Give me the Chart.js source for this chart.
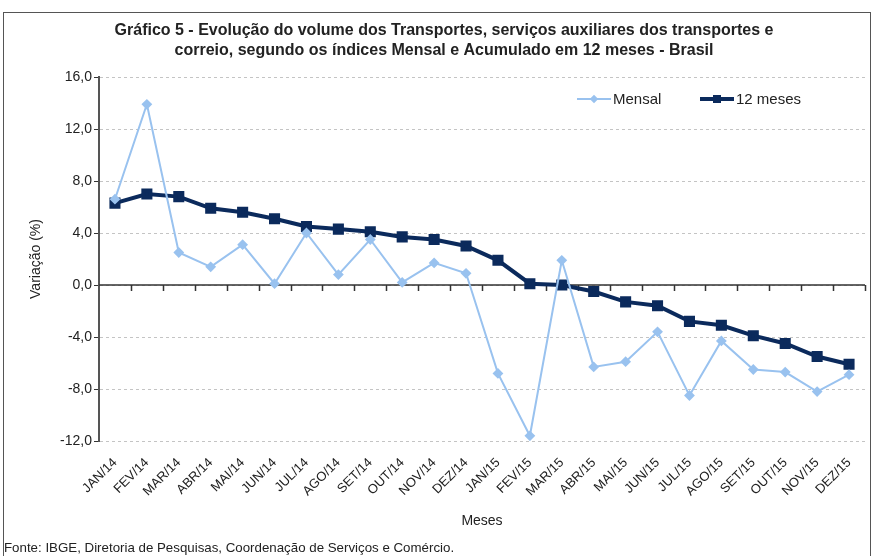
<!DOCTYPE html>
<html>
<head>
<meta charset="utf-8">
<script src="https://cdn.jsdelivr.net/npm/chart.js@4.4.1/dist/chart.umd.min.js"></script>
<style>
  html, body { margin: 0; padding: 0; background: #fff; }
  #wrap { position: relative; width: 874px; height: 556px; font-family: "Liberation Sans", Arial, sans-serif; }
  #frame { position: absolute; left: 3px; top: 12px; width: 868px; height: 560px; border: 1px solid #555; box-sizing: border-box; }
  canvas { position: absolute; left: 0; top: 0; }
  #legend { position: absolute; top: 90px; left: 577px; font-size: 15px; color: #222; display: flex; align-items: center; }
  .item { display: flex; align-items: center; }
  .sw { position: relative; width: 34px; height: 14px; margin-right: 2px; }
  .sw .ln { position: absolute; left: 0; right: 0; top: 50%; }
  .sw .mk { position: absolute; left: 50%; top: 50%; }
  #footer { position: absolute; left: 4px; top: 540px; font-size: 13.3px; color: #222; }
</style>
</head>
<body>
<div id="wrap">
  <div id="frame"></div>
  <canvas id="chart" width="874" height="556"></canvas>
  <div id="legend">
    <div class="item" style="width:123px"><div class="sw"><div class="ln" style="height:2px;margin-top:-1px;background:#99c2ef"></div><div class="mk" style="width:6px;height:6px;margin:-3px 0 0 -3px;background:#99c2ef;transform:rotate(45deg)"></div></div>Mensal</div>
    <div class="item"><div class="sw"><div class="ln" style="height:4px;margin-top:-2px;background:#0b2a5c"></div><div class="mk" style="width:8px;height:8px;margin:-4px 0 0 -4px;background:#0b2a5c"></div></div>12 meses</div>
  </div>
  <div id="footer">Fonte: IBGE, Diretoria de Pesquisas, Coordenação de Serviços e Comércio.</div>
</div>
<script>
// Data
const months = ["JAN/14", "FEV/14", "MAR/14", "ABR/14", "MAI/14", "JUN/14", "JUL/14", "AGO/14", "SET/14", "OUT/14", "NOV/14", "DEZ/14",
  "JAN/15", "FEV/15", "MAR/15", "ABR/15", "MAI/15", "JUN/15", "JUL/15", "AGO/15", "SET/15", "OUT/15", "NOV/15", "DEZ/15"];
const mensal = [6.6, 13.9, 2.5, 1.4, 3.1, 0.1, 4.0, 0.8, 3.5, 0.2, 1.7, 0.9,
  -6.8, -11.6, 1.9, -6.3, -5.9, -3.6, -8.5, -4.3, -6.5, -6.7, -8.2, -6.9];
const acum12 = [6.3, 7.0, 6.8, 5.9, 5.6, 5.1, 4.5, 4.3, 4.1, 3.7, 3.5, 3.0,
  1.9, 0.1, 0.0, -0.5, -1.3, -1.6, -2.8, -3.1, -3.9, -4.5, -5.5, -6.1];
const yTicks = [-12, -8, -4, 0, 4, 8, 12, 16];

// zero line with category tick marks
const zeroAxis = {
  id: "zeroAxis",
  beforeDatasetsDraw(chart) {
    const { ctx, chartArea, scales: { x, y } } = chart;
    const y0 = y.getPixelForValue(0);
    ctx.save();
    ctx.strokeStyle = "#333";
    ctx.lineWidth = 1.5;
    ctx.beginPath();
    ctx.moveTo(chartArea.left, y0);
    ctx.lineTo(chartArea.right, y0);
    for (let i = 1; i <= months.length; i++) {
      const px = Math.round(x.getPixelForValue(i - 0.5)) + 0.5;
      ctx.moveTo(px, y0);
      ctx.lineTo(px, y0 + 6);
    }
    ctx.stroke();
    ctx.restore();
  }
};

new Chart(document.getElementById("chart"), {
  type: "line",
  data: {
    labels: months,
    datasets: [
      {
        label: "Mensal",
        data: mensal,
        borderColor: "#99c2ef",
        backgroundColor: "#99c2ef",
        borderWidth: 2,
        pointStyle: "rectRot",
        pointRadius: 4,
        pointHoverRadius: 4,
        tension: 0
      },
      {
        label: "12 meses",
        data: acum12,
        borderColor: "#0b2a5c",
        backgroundColor: "#0b2a5c",
        borderWidth: 4,
        pointStyle: "rect",
        pointRadius: 5,
        pointHoverRadius: 5,
        tension: 0
      }
    ]
  },
  options: {
    responsive: false,
    animation: false,
    layout: { padding: { left: 18, right: 4, top: 0, bottom: 26 } },
    plugins: {
      legend: { display: false },
      tooltip: { enabled: false },
      title: {
        display: true,
        text: ["Gráfico 5 - Evolução do volume dos Transportes, serviços auxiliares dos transportes e",
               "correio, segundo os índices Mensal e Acumulado em 12 meses - Brasil"],
        color: "#222",
        font: { family: "Liberation Sans", size: 16, weight: "bold", lineHeight: 1.25 },
        padding: { top: 21, bottom: 16 }
      }
    },
    scales: {
      x: {
        offset: true,
        grid: { display: false },
        border: { display: false },
        ticks: {
          color: "#222",
          font: { family: "Liberation Sans", size: 13 },
          minRotation: 45,
          maxRotation: 45,
          autoSkip: false,
          padding: 6
        },
        title: {
          display: true,
          text: "Meses",
          color: "#222",
          font: { family: "Liberation Sans", size: 14 },
          padding: { top: 4, bottom: 0 }
        },
        afterFit(scale) { scale.height = 89; }
      },
      y: {
        min: -12,
        max: 16,
        afterBuildTicks(scale) { scale.ticks = yTicks.map(v => ({ value: v })); },
        grid: {
          color: "#c4c4c4",
          lineWidth: 1,
          tickColor: "#333",
          tickLength: 5,
          tickBorderDash: []
        },
        border: { color: "#555", width: 2, dash: [3, 3] },
        ticks: {
          color: "#222",
          font: { family: "Liberation Sans", size: 14 },
          padding: 2,
          callback: v => v.toFixed(1).replace(".", ",")
        },
        title: {
          display: true,
          text: "Variação (%)",
          color: "#222",
          font: { family: "Liberation Sans", size: 14 },
          padding: { top: 10, bottom: 0 }
        },
        afterFit(scale) { scale.width = 81; }
      }
    }
  },
  plugins: [zeroAxis]
});
</script>
</body>
</html>
